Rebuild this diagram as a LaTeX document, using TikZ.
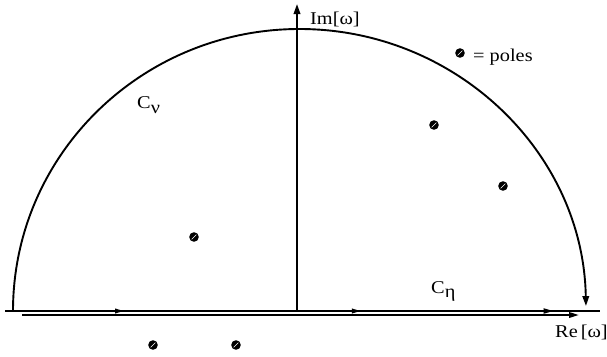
\documentclass[tikz,border=0pt]{standalone}
\usepackage{fontspec}
\setmainfont[FakeStretch=1.13]{Liberation Serif}
\usetikzlibrary{arrows.meta,decorations.markings}
\begin{document}
\begin{tikzpicture}[x=1pt,y=-1pt,
  ax/.style={line width=1.9pt},
  pole/.pic={\fill[black] (0,0) circle (4.8); \draw[white,line width=0.6pt] (-2.3,2.3) -- (2.3,-2.3);},
  lbl/.style={font=\fontsize{18}{20}\selectfont, inner sep=0pt}]
\useasboundingbox (0,0) rectangle (607,356);
% coordinates
\coordinate (rl) at (5,311);
\coordinate (rr) at (600,311);
\coordinate (ll) at (22,315);
\coordinate (lr) at (579,315);
\coordinate (ib) at (297,311);
\coordinate (it) at (297,4);
% real axis (upper line) with mid arrows
\draw[ax, postaction={decorate}, decoration={markings,
  mark=at position 0.2 with {\arrow{Triangle[length=9pt,width=4.5pt]}},
  mark=at position 0.598 with {\arrow{Triangle[length=9pt,width=4.5pt]}},
  mark=at position 0.922 with {\arrow{Triangle[length=10pt,width=5pt]}}}] (rl) -- (rr);
% lower line
\draw[ax,-{Triangle[length=10pt,width=5.5pt]}] (ll) -- (lr);
% imaginary axis
\draw[ax,-{Triangle[length=10pt,width=6.5pt]}] (ib) -- (it);
% semicircle
\draw[ax,-{Triangle[length=10pt,width=6.5pt]}] (13,311) arc[start angle=180,end angle=359,x radius=286.5,y radius=282];
% poles
\pic at (460,53) {pole};
\pic at (434,125) {pole};
\pic at (503,186) {pole};
\pic at (194,237) {pole};
\pic at (153,345) {pole};
\pic at (236,345) {pole};
% labels
\node[lbl,anchor=base west] (poles) at (473,61) {= poles};
\node[lbl,anchor=base west] (im) at (310,24) {Im[ω]};
\node[lbl,anchor=base west] (re) at (555,337) {Re\,[ω]};
\node[lbl,anchor=base west] (cn) at (137,108) {C\raisebox{-0.7ex}{ν}};
\node[lbl,anchor=base west] (ce) at (431,293) {C\raisebox{-0.6ex}{η}};
\end{tikzpicture}
\end{document}
